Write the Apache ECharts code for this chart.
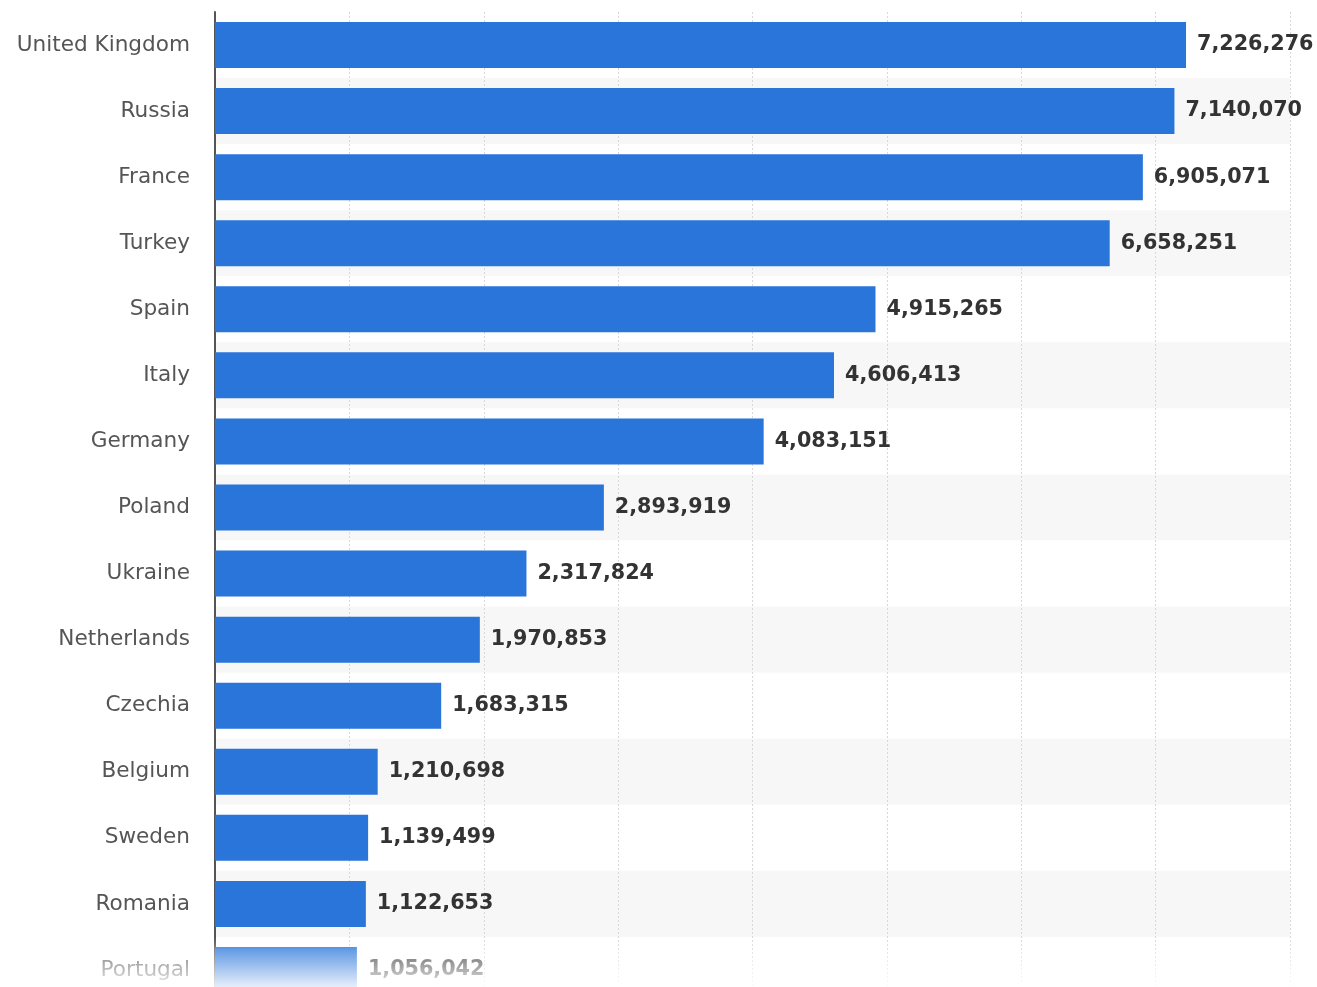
<!DOCTYPE html>
<html>
<head>
<meta charset="utf-8">
<style>
  html, body { margin: 0; padding: 0; background: #ffffff; overflow: hidden; }
  /* the plot runs a little past the lower edge of the window */
  #chart { width: 1317px; height: 1003px; }
</style>
<script src="https://cdn.jsdelivr.net/npm/echarts@6/dist/echarts.min.js"></script>
</head>
<body>
<div id="chart"></div>
<script>
// Countries, top to bottom
const countries = [
  'United Kingdom', 'Russia', 'France', 'Turkey', 'Spain', 'Italy', 'Germany',
  'Poland', 'Ukraine', 'Netherlands', 'Czechia', 'Belgium', 'Sweden', 'Romania', 'Portugal'
];
// Value for each country
const values = [
  7226276, 7140070, 6905071, 6658251, 4915265, 4606413, 4083151,
  2893919, 2317824, 1970853, 1683315, 1210698, 1139499, 1122653, 1056042
];
// Value-axis range and step
const axisMax = 8000000;
const axisStep = 1000000;

const fmt = v => v.toLocaleString('en-US');
const chart = echarts.init(document.getElementById('chart'));

chart.setOption({
  animation: false,
  grid: { left: 215, width: 1075, top: 12, bottom: 0, containLabel: false },
  xAxis: {
    type: 'value',
    min: 0,
    max: axisMax,
    interval: axisStep,
    axisLine: { show: false },
    axisTick: { show: false },
    axisLabel: { show: false },
    splitLine: { show: true, lineStyle: { color: '#d8d8d8', type: [2, 2], width: 1 } }
  },
  yAxis: {
    type: 'category',
    data: countries,
    inverse: true,
    axisLine: { show: true, lineStyle: { color: '#555555', width: 2 } },
    axisTick: { show: false },
    axisLabel: {
      color: '#555555',
      fontFamily: 'DejaVu Sans',
      fontSize: 21.6,
      margin: 25
    },
    splitArea: { show: true, areaStyle: { color: ['#ffffff', '#f7f7f7'] } }
  },
  series: [{
    type: 'bar',
    data: values,
    barWidth: 46,
    itemStyle: { color: '#2975da' },
    label: {
      show: true,
      position: 'right',
      distance: 11,
      formatter: p => fmt(p.value),
      color: '#333333',
      fontFamily: 'DejaVu Sans',
      fontWeight: 'bold',
      fontSize: 20.7
    }
  }],
  graphic: [{
    // white fade over the lowest row
    type: 'rect',
    left: 0,
    top: 938,
    z: 100,
    silent: true,
    shape: { width: 1317, height: 65 },
    style: {
      fill: {
        type: 'linear', x: 0, y: 0, x2: 0, y2: 1,
        colorStops: [
          { offset: 0, color: 'rgba(255,255,255,0)' },
          { offset: 0.2, color: 'rgba(255,255,255,0.3)' },
          { offset: 0.75, color: 'rgba(255,255,255,0.88)' },
          { offset: 1, color: 'rgba(255,255,255,0.95)' }
        ]
      }
    }
  }]
});
</script>
</body>
</html>
